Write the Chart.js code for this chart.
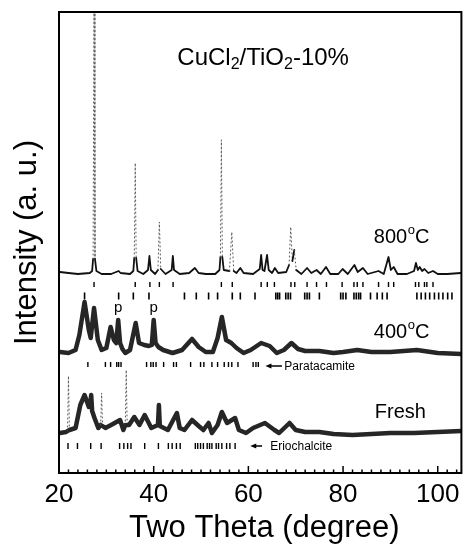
<!DOCTYPE html>
<html>
<head>
<meta charset="utf-8">
<script src="https://cdn.jsdelivr.net/npm/chart.js@4.4.0/dist/chart.umd.min.js"></script>
<style>
    html, body { margin: 0; padding: 0; background: #fff; }
</style>
</head>
<body>
<canvas id="xrdChart" width="467" height="548"></canvas>
<script>
// Scan CuCl2/TiO2 calcined at 800 C (two theta, intensity a.u.)
const theta800 = [20.2, 22, 24, 26.5, 27.0, 27.2, 27.4, 27.6, 27.9, 29, 31, 32.6, 33, 35, 35.7, 35.9, 36.1, 36.3, 36.6,
    37.8, 38.8, 39.1, 39.4, 40.3, 40.9, 41.2, 41.5, 42.5, 43.8, 44.05, 44.3, 45.5, 47.5, 48.7, 49.5, 51, 53,
    53.9, 54.1, 54.3, 54.5, 54.8, 56.0, 56.5, 56.9, 57.5, 58.3, 59.0, 61, 62.4, 62.7, 63.0, 63.4, 63.95, 64.3,
    65.0, 65.6, 66.3, 68.0, 68.6, 68.95, 69.3, 69.7, 70.1, 71.2, 72.4, 73.3, 74.4, 75.3, 76.4, 77.3, 79.0, 79.9,
    81.0, 82.4, 83.1, 84.2, 85.2, 87.5, 88.6, 89.6, 90.1, 90.7, 91.5, 93.5, 95.0, 95.4, 95.8, 96.2, 96.7, 97.2,
    98.0, 99.0, 100.0, 102, 104.9];
const int800 = [201, 200, 199, 200, 202, 214, 480, 214, 202, 199, 199, 202, 200, 199, 202, 215, 310, 215, 202,
    199, 203, 217, 203, 199, 203, 251, 204, 199, 203, 217, 203, 199, 200, 205, 200, 199, 199,
    203, 216, 333, 216, 203, 202, 241, 202, 200, 205, 200, 199, 204, 218, 203, 202, 218, 203,
    200, 205, 200, 201, 208, 246, 212, 223, 203, 199, 205, 200, 203, 199, 206, 199, 199, 204,
    199, 208, 201, 205, 199, 202, 199, 216, 203, 206, 199, 199, 202, 210, 203, 206, 202, 204,
    200, 202, 199, 199, 200];

// Scan calcined at 400 C
const theta400 = [20.2, 22, 23.5, 24.3, 25.4, 26.3, 26.7, 27.4, 28.2, 29.0, 30.0, 30.9, 31.6, 32.1, 32.5, 32.9,
    33.4, 34.0, 35.0, 36.2, 36.9, 38.0, 39.0, 39.6, 40.0, 40.4, 41, 42, 44, 46, 48.1, 49.5, 51, 52.5, 53.5,
    54.4, 55.3, 56.4, 57.5, 59, 60.5, 62.7, 64.5, 66, 67.5, 69.1, 70.5, 72, 75, 78, 80, 83, 86, 90, 95.6,
    100, 105];
const int400 = [121, 120, 123, 138, 171, 143, 135, 165, 133, 123, 125, 146, 133, 130, 153, 130,
    124, 120, 123, 150, 130, 128, 127, 128, 153, 130, 126, 123, 120, 123, 134, 126, 121, 121, 135,
    156, 133, 130, 125, 120, 123, 130, 127, 120, 123, 130, 124, 122, 122, 120, 121, 123, 121, 121, 123,
    120, 119];

// Fresh (uncalcined) scan
const thetaFresh = [20.2, 21.5, 21.8, 22.0, 22.2, 23.5, 24.5, 25.4, 26.3, 26.6, 26.8, 27.0, 27.5, 28.3, 28.8, 29.0,
    29.2, 29.8, 31, 32.9, 33.6, 34.0, 34.2, 34.4, 34.8, 35.9, 37, 38.1, 39.5, 40.9, 41.1, 41.3, 43, 44.9, 45.5,
    46.5, 48.1, 49.5, 50.5, 51.6, 52.3, 53.5, 54.4, 55.5, 57.2, 58, 59.5, 61, 63.5, 65.5, 66.5, 68.7, 70, 72,
    75, 78, 82, 86, 90, 95, 100, 105];
const intFresh = [40, 41, 42, 97, 43, 45, 68, 78, 66, 70, 78, 62, 55, 45, 48, 80,
    47, 45, 48, 53, 43, 48, 103, 48, 48, 56, 48, 58, 45, 48, 68, 47, 43, 60, 45,
    43, 53, 47, 43, 50, 40, 48, 61, 50, 55, 43, 40, 45, 50, 43, 40, 50, 43, 41,
    41, 39, 38, 39, 40, 40, 41, 42];

// Reference reflection positions (two theta)
const rutileTicks = [27.4, 36.1, 39.2, 41.2, 44.1, 54.3, 56.6, 62.7, 64.0, 65.5, 69.0, 69.8, 72.4, 74.4, 76.5,
    79.8, 82.3, 83.0, 84.2, 87.5, 89.6, 90.7, 95.3, 96.0, 97.2, 97.7, 99.0];
const secondPhaseTicks = [25.4, 32.6, 35.7, 39.0, 46.5, 49.0, 51.6, 53.5, 56.6, 58.3, 61.4, 65.8, 66.2, 66.6,
    67.9, 68.4, 68.9, 71.9, 72.4, 72.9, 75.0, 79.5, 80.0, 80.6, 82.3, 82.8, 83.3, 83.7, 85.8, 87.2, 88.3,
    89.3, 95.6, 96.5, 97.4, 98.3, 99.3, 100.2, 101.1, 102.1, 103.0];
const paratacamiteTicks = [26.1, 29.8, 30.9, 32.2, 32.6, 33.1, 38.5, 39.4, 39.9, 40.5, 42.1, 44.2, 44.8, 47.8,
    49.9, 50.6, 52.3, 53.5, 54.9, 55.8, 56.5, 57.8, 61.0, 61.6, 62.1];
const eriochalciteTicks = [21.9, 23.9, 26.7, 28.9, 32.8, 33.7, 34.5, 35.2, 38.1, 41.0, 43.1, 43.9, 44.8, 45.6,
    48.8, 49.3, 49.9, 50.5, 51.3, 51.8, 52.3, 53.2, 53.7, 54.4, 55.4, 56.1, 57.2];

// Axis ticks and text
const xTickValues = [20, 40, 60, 80, 100];
const xMinorStep = 2;
const sampleLabels = ["800", "400", "Fresh"];
const peakMarkTheta = [32.5, 40.0];

const FONT = "'Liberation Sans', Arial, Helvetica, sans-serif";

function toPoints(xs, ys) {
    return xs.map((v, i) => ({ x: v, y: ys[i] }));
}

// Steep, tall segments are drawn as sparse dots like the scan
function spikeTest(minRise) {
    return ctx => {
        const dx = Math.abs(ctx.p1.x - ctx.p0.x);
        const dy = Math.abs(ctx.p1.y - ctx.p0.y);
        return dy > minRise && dy > 8 * dx;
    };
}

function scanDataset(xs, ys, width, color, minRise) {
    const isSpike = spikeTest(minRise);
    return {
        type: "line",
        data: toPoints(xs, ys),
        borderColor: color,
        borderWidth: width,
        pointRadius: 0,
        tension: 0,
        borderJoinStyle: "round",
        borderCapStyle: "round",
        segment: {
            borderDash: ctx => isSpike(ctx) ? [1, 3] : undefined,
            borderWidth: ctx => isSpike(ctx) ? 1 : undefined,
            borderColor: ctx => isSpike(ctx) ? "#555" : undefined
        }
    };
}

function tickRowDataset(positions, level, radius, width) {
    return {
        type: "scatter",
        data: positions.map(v => ({ x: v, y: level })),
        pointStyle: "line",
        rotation: 90,
        pointRadius: radius,
        borderColor: "#000",
        borderWidth: width,
        showLine: false
    };
}

// Text with a raised small "o" for degree
function drawTemperature(ctx, value, px, py) {
    ctx.font = "20px " + FONT;
    ctx.fillText(value, px, py);
    let w = ctx.measureText(value).width;
    ctx.font = "13px " + FONT;
    ctx.fillText("o", px + w + 0.5, py - 7);
    w += ctx.measureText("o").width + 0.5;
    ctx.font = "20px " + FONT;
    ctx.fillText("C", px + w, py);
}

// Text pieces with subscripts
function drawFormula(ctx, parts, px, py) {
    let cx = px;
    parts.forEach(([text, sub]) => {
        ctx.font = (sub ? "16px " : "24px ") + FONT;
        ctx.fillText(text, cx, sub ? py + 7 : py);
        cx += ctx.measureText(text).width;
    });
}

function drawArrowLabel(ctx, x, y, head, tail, textX, level, text) {
    const yp = y.getPixelForValue(level);
    const hx = x.getPixelForValue(head);
    const tx = x.getPixelForValue(tail);
    ctx.lineWidth = 1.5;
    ctx.beginPath();
    ctx.moveTo(hx + 4, yp);
    ctx.lineTo(tx, yp);
    ctx.stroke();
    ctx.beginPath();
    ctx.moveTo(hx, yp);
    ctx.lineTo(hx + 6, yp - 2.5);
    ctx.lineTo(hx + 6, yp + 2.5);
    ctx.closePath();
    ctx.fill();
    ctx.font = "12px " + FONT;
    ctx.textAlign = "left";
    ctx.fillText(text, x.getPixelForValue(textX), yp + 1);
}

const decorations = {
    id: "decorations",
    afterDatasetsDraw(chart) {
        const { ctx, chartArea: a, scales: { x, y } } = chart;
        ctx.save();
        ctx.fillStyle = "#000";
        ctx.strokeStyle = "#000";

        // Frame
        ctx.lineWidth = 2;
        ctx.strokeRect(a.left, a.top, a.right - a.left, a.bottom - a.top);

        // Inward ticks on the bottom axis
        ctx.lineWidth = 1.5;
        for (let v = xTickValues[0]; v < x.max; v += xMinorStep) {
            const px = x.getPixelForValue(v);
            const len = xTickValues.includes(v) ? 7 : 3.5;
            ctx.beginPath();
            ctx.moveTo(px, a.bottom);
            ctx.lineTo(px, a.bottom - len);
            ctx.stroke();
        }

        // Axis titles
        ctx.textAlign = "center";
        ctx.textBaseline = "middle";
        ctx.font = "31px " + FONT;
        ctx.fillText("Two Theta (degree)", (a.left + a.right) / 2 + 4, 528);
        ctx.save();
        ctx.translate(27, (a.top + a.bottom) / 2);
        ctx.rotate(-Math.PI / 2);
        ctx.fillText("Intensity (a. u.)", 0, 0);
        ctx.restore();

        // Sample title
        ctx.textAlign = "left";
        drawFormula(ctx, [["CuCl", false], ["2", true], ["/TiO", false], ["2", true], ["-10%", false]],
            x.getPixelForValue(45.0), y.getPixelForValue(415));

        // Curve labels
        drawTemperature(ctx, sampleLabels[0], x.getPixelForValue(86.5), y.getPixelForValue(236));
        drawTemperature(ctx, sampleLabels[1], x.getPixelForValue(86.5), y.getPixelForValue(141));
        ctx.font = "20px " + FONT;
        ctx.fillText(sampleLabels[2], x.getPixelForValue(86.7), y.getPixelForValue(61));

        // Paratacamite peak marks
        ctx.textAlign = "center";
        ctx.font = "15px " + FONT;
        peakMarkTheta.forEach(t => ctx.fillText("p", x.getPixelForValue(t), y.getPixelForValue(165)));

        // Phase labels with arrows
        drawArrowLabel(ctx, x, y, 63.6, 67.1, 67.6, 107, "Paratacamite");
        drawArrowLabel(ctx, x, y, 60.4, 62.9, 64.6, 27, "Eriochalcite");

        ctx.restore();
    }
};

const chart = new Chart(document.getElementById("xrdChart"), {
    type: "scatter",
    data: {
        datasets: [
            scanDataset(theta800, int800, 1.8, "#111", 20),
            scanDataset(theta400, int400, 4.5, "#262626", 1000),
            scanDataset(thetaFresh, intFresh, 4.5, "#262626", 30),
            tickRowDataset(rutileTicks, 188.5, 2.5, 1.4),
            tickRowDataset(secondPhaseTicks, 177, 3.5, 1.6),
            tickRowDataset(paratacamiteTicks, 108.5, 2.5, 1.4),
            tickRowDataset(eriochalciteTicks, 27, 3, 1.4)
        ]
    },
    options: {
        responsive: false,
        animation: false,
        devicePixelRatio: 1,
        layout: { padding: { left: 59, right: 3, top: 12, bottom: 0 } },
        plugins: { legend: { display: false }, tooltip: { enabled: false } },
        scales: {
            x: {
                type: "linear",
                min: 20,
                max: 105,
                grid: { display: false, drawTicks: false },
                border: { display: false },
                ticks: { font: { family: FONT, size: 26 }, color: "#000", padding: 6, maxRotation: 0 },
                afterBuildTicks: s => { s.ticks = xTickValues.map(v => ({ value: v })); },
                afterFit: s => { s.height = 75; }
            },
            y: { display: false, min: 0, max: 461 }
        }
    },
    plugins: [decorations]
});
</script>
</body>
</html>
